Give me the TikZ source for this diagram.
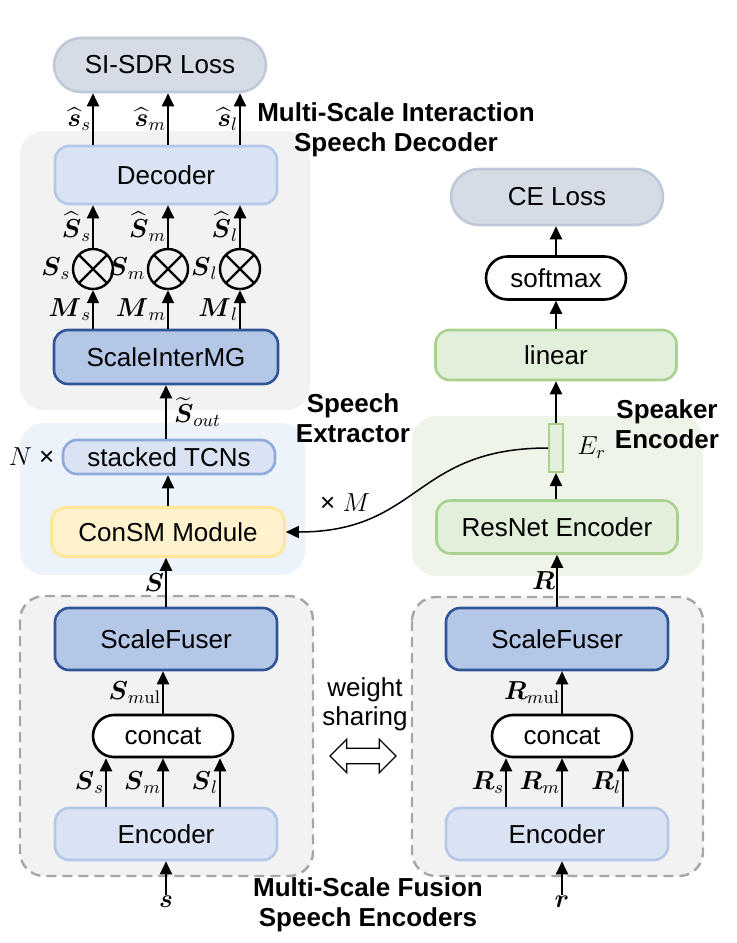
\RequirePackage{fix-cm}
\documentclass[tikz,border=0pt]{standalone}
\usepackage{amsmath}
\usepackage{amssymb}
\usepackage[no-math]{fontspec}
\setmainfont{Liberation Sans}
\usetikzlibrary{shapes.misc,shapes.arrows,arrows.meta,positioning,calc}

\definecolor{lossfill}{HTML}{D6DCE5}
\definecolor{lossline}{HTML}{BFC9D9}
\definecolor{panelgray}{HTML}{F2F2F2}
\definecolor{panelblue}{HTML}{EDF3FB}
\definecolor{panelgreen}{HTML}{EEF5E8}
\definecolor{lblue}{HTML}{DAE3F3}
\definecolor{lblueline}{HTML}{B4C7E7}
\definecolor{dblue}{HTML}{B4C7E7}
\definecolor{dblueline}{HTML}{2F5597}
\definecolor{tcnline}{HTML}{8FAADC}
\definecolor{yfill}{HTML}{FFF2CC}
\definecolor{yline}{HTML}{FFE699}
\definecolor{gfill}{HTML}{E2EFDA}
\definecolor{gline}{HTML}{A9D18E}
\definecolor{dashgray}{HTML}{A6A6A6}

\tikzset{
	box/.style={rectangle, rounded corners=7pt, line width=1.3pt, minimum width=111pt, minimum height=27pt, inner sep=1pt, font=\fontsize{13}{15}\selectfont},
	lightbox/.style={box, fill=lblue, draw=lblueline},
	darkbox/.style={box, fill=dblue, draw=dblueline},
	greenbox/.style={box, fill=gfill, draw=gline},
	pill/.style={rounded rectangle, line width=1.3pt, minimum width=72pt, minimum height=21pt, inner sep=1pt, font=\fontsize{13}{15}\selectfont},
	losspill/.style={pill, fill=lossfill, draw=lossline, minimum width=108pt, minimum height=27pt},
	oppill/.style={pill, fill=white, draw=black},
	mulnode/.style={circle, draw, line width=1.2pt, minimum size=20pt, inner sep=0pt,
		path picture={\draw[line width=1.2pt] (path picture bounding box.south west) -- (path picture bounding box.north east)
			(path picture bounding box.north west) -- (path picture bounding box.south east);}},
	arr/.style={-{Triangle[length=6.5pt,width=6pt]}, line width=1pt},
	lbl/.style={font=\fontsize{13}{15}\selectfont, inner sep=0.5pt},
	title/.style={font=\fontsize{13}{15}\selectfont\bfseries, align=center},
	panel/.style={rounded corners=12pt},
}

\begin{document}
\begin{tikzpicture}[x=0.5pt, y=-0.5pt]
		\useasboundingbox (0,0) rectangle (736,943);
		
		% panels
		\fill[panel, panelgray] (20,131) rectangle (310,410);
		\fill[panel, panelblue] (20,423) rectangle (305,575);
		\fill[panel, panelgreen] (412,416) rectangle (703,576);
		\draw[panel, fill=panelgray, draw=dashgray, line width=1.2pt, dash pattern=on 5pt off 3pt] (20,596) rectangle (313,876);
		\draw[panel, fill=panelgray, draw=dashgray, line width=1.2pt, dash pattern=on 5pt off 3pt] (412,597) rectangle (703,876);
		
		% speech decoder
		\node[losspill] (loss) at (160,65) {SI-SDR Loss};
		\node[lightbox, minimum height=29pt] (dec) at (166,175) {Decoder};
		\node[mulnode, label={[lbl]left:$\boldsymbol{S}_s$}] (m1) at (93,269) {};
		\node[mulnode, label={[lbl]left:$\boldsymbol{S}_m$}] (m2) at (168,269) {};
		\node[mulnode, label={[lbl]left:$\boldsymbol{S}_l$}] (m3) at (240,269) {};
		\node[darkbox, minimum width=112pt] (ig) at (166,357) {ScaleInterMG};
		\node[title] (dectitle) at (396,130) {Multi-Scale Interaction\\Speech Decoder};
		
		\draw[arr] (dec.north -| m1) -- node[lbl, left] {$\widehat{\boldsymbol{s}}_s$} (loss.south -| m1);
		\draw[arr] (dec.north -| m2) -- node[lbl, left] {$\widehat{\boldsymbol{s}}_m$} (loss.south -| m2);
		\draw[arr] (dec.north -| m3) -- node[lbl, left] {$\widehat{\boldsymbol{s}}_l$} (loss.south -| m3);
		\draw[arr] (m1.north) -- node[lbl, left] {$\widehat{\boldsymbol{S}}_s$} (dec.south -| m1);
		\draw[arr] (m2.north) -- node[lbl, left] {$\widehat{\boldsymbol{S}}_m$} (dec.south -| m2);
		\draw[arr] (m3.north) -- node[lbl, left] {$\widehat{\boldsymbol{S}}_l$} (dec.south -| m3);
		\draw[arr] (ig.north -| m1) -- node[lbl, left] {$\boldsymbol{M}_s$} (m1.south);
		\draw[arr] (ig.north -| m2) -- node[lbl, left] {$\boldsymbol{M}_m$} (m2.south);
		\draw[arr] (ig.north -| m3) -- node[lbl, left] {$\boldsymbol{M}_l$} (m3.south);
		
		% speech extractor
		\node[lightbox, draw=tcnline, minimum width=106pt, minimum height=17pt] (tcn) at (169,457) {stacked TCNs};
		\node[box, fill=yfill, draw=yline, minimum width=116.5pt, minimum height=24.5pt] (consm) at (168,532) {ConSM Module};
		\node[lbl, left=3pt of tcn] (nx) {$N$ ×};
		\node[title] (extitle) at (353,418) {Speech\\Extractor};
		
		\draw[arr] (ig.south |- tcn.north) -- node[lbl, right=3pt] {$\widetilde{\boldsymbol{S}}_{out}$} (ig.south);
		\draw[arr] (consm.north) -- (consm.north |- tcn.south);
		
		% speaker encoder
		\node[losspill, minimum height=28pt] (ce) at (557,197) {CE Loss};
		\node[oppill, minimum height=21.5pt] (smax) at (556,278) {softmax};
		\node[greenbox, minimum width=120.5pt, minimum height=25pt] (lin) at (556,355) {linear};
		\node[rectangle, fill=gfill, draw=gline, line width=1pt, minimum width=7pt, minimum height=24pt, inner sep=0pt] (er) at (556,448) {};
		\node[lbl, right=6pt of er] (erl) {$E_r$};
		\node[greenbox, minimum width=120.5pt, minimum height=26.5pt] (resnet) at (557,527) {ResNet Encoder};
		\node[title] (sptitle) at (667,424) {Speaker\\Encoder};
		\node[lbl] (xm) at (345,503) {× $M$};
		
		\draw[arr] (smax.north) -- (smax.north |- ce.south);
		\draw[arr] (lin.north) -- (lin.north |- smax.south);
		\draw[arr] (er.north) -- (er.north |- lin.south);
		\draw[arr] (resnet.north -| er) -- (er.south);
		\draw[-{Triangle[length=6.5pt,width=6pt]}, line width=0.75pt] (er.west) to[out=180, in=0, looseness=1.25] (consm.east);
		
		% speech encoder
		\node[darkbox, minimum height=31pt] (sfl) at (166,639) {ScaleFuser};
		\node[oppill] (catl) at (163,736) {concat};
		\node[lightbox, minimum height=26pt] (encl) at (166,834) {Encoder};
		\node[lbl] (sin) at (166,902) {$\boldsymbol{s}$};
		\coordinate (cl1) at (106,778);
		\coordinate (cl2) at (163,778);
		\coordinate (cl3) at (220,778);
		
		\draw[arr] (sfl.north) -- node[lbl, left] {$\boldsymbol{S}$} (consm.south -| sfl);
		\draw[arr] (catl.north) -- node[lbl, left] {$\boldsymbol{S}_{m\mathrm{ul}}$} (sfl.south -| catl);
		\draw[arr] (encl.north -| cl1) -- node[lbl, left] {$\boldsymbol{S}_s$} (catl.south -| cl1);
		\draw[arr] (encl.north -| cl2) -- node[lbl, left] {$\boldsymbol{S}_m$} (catl.south -| cl2);
		\draw[arr] (encl.north -| cl3) -- node[lbl, left] {$\boldsymbol{S}_l$} (catl.south -| cl3);
		\draw[arr] (sin.north) -- (encl.south);
		
		% reference encoder
		\node[darkbox, minimum height=31pt] (sfr) at (557,639) {ScaleFuser};
		\node[oppill] (catr) at (562,736) {concat};
		\node[lightbox, minimum height=26pt] (encr) at (557,834) {Encoder};
		\node[lbl] (rin) at (562,902) {$\boldsymbol{r}$};
		\coordinate (cr1) at (506,778);
		\coordinate (cr2) at (562,778);
		\coordinate (cr3) at (623,778);
		
		\draw[arr] (sfr.north) -- node[lbl, left] {$\boldsymbol{R}$} (resnet.south -| sfr);
		\draw[arr] (catr.north) -- node[lbl, left] {$\boldsymbol{R}_{m\mathrm{ul}}$} (sfr.south -| catr);
		\draw[arr] (encr.north -| cr1) -- node[lbl, left] {$\boldsymbol{R}_s$} (catr.south -| cr1);
		\draw[arr] (encr.north -| cr2) -- node[lbl, left] {$\boldsymbol{R}_m$} (catr.south -| cr2);
		\draw[arr] (encr.north -| cr3) -- node[lbl, left] {$\boldsymbol{R}_l$} (catr.south -| cr3);
		\draw[arr] (rin.north) -- (encr.south -| rin);
		
		% weight sharing
		\node[lbl, align=center, font=\fontsize{13}{14.5}\selectfont] (ws) at (365,704) {weight\\sharing};
		\node[double arrow, draw, fill=white, line width=0.6pt, inner sep=3.6pt, double arrow head extend=4.5pt, minimum height=33pt] (wsarr) at (363,756) {};
		\node[title] (enctitle) at (368,905) {Multi-Scale Fusion\\Speech Encoders};
	\end{tikzpicture}
\end{document}
